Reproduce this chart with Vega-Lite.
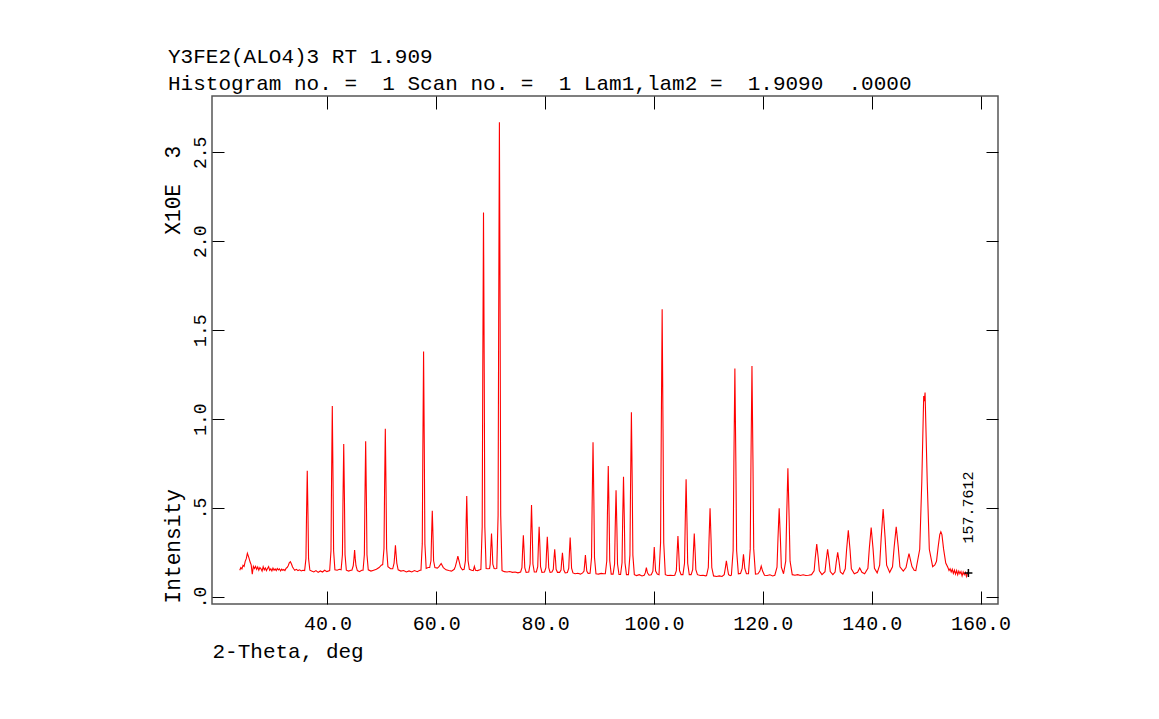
{
  "$schema": "https://vega.github.io/schema/vega-lite/v6.json",
  "width": 786,
  "height": 508,
  "autosize": {"type": "none"},
  "padding": {"left": 212, "top": 96, "right": 161, "bottom": 115},
  "background": "white",
  "title": {
    "text": ["Y3FE2(ALO4)3 RT 1.909", "Histogram no. =\u00a0\u00a01 Scan no. =\u00a0\u00a01 Lam1,lam2 =\u00a0\u00a01.9090\u00a0\u00a0.0000"],
    "anchor": "start",
    "frame": "group",
    "dx": -44,
    "offset": 2,
    "fontSize": 21,
    "font": "Liberation Mono",
    "fontWeight": "normal",
    "color": "#000000",
    "lineHeight": 27
  },
  "config": {
    "font": "Liberation Mono",
    "view": {"stroke": "#555555", "strokeWidth": 1.5},
    "axis": {"grid": false, "domain": false, "tickColor": "#000000", "tickWidth": 1, "labelColor": "#000000", "titleColor": "#000000", "titleFontWeight": "normal", "labelFont": "Liberation Mono", "titleFont": "Liberation Mono"}
  },
  "datasets": {
    "pattern": [
      {"tth":23.9,"int":0.150},{"tth":24.1,"int":0.165},{"tth":24.3,"int":0.158},{"tth":24.5,"int":0.178},{"tth":24.7,"int":0.172},{"tth":24.9,"int":0.200},{"tth":25.1,"int":0.215},{"tth":25.3,"int":0.245},{"tth":25.45,"int":0.232},{"tth":25.6,"int":0.218},{"tth":25.8,"int":0.196},{"tth":26.0,"int":0.180},{"tth":26.2,"int":0.128},{"tth":26.4,"int":0.172},{"tth":26.6,"int":0.160},{"tth":26.8,"int":0.172},{"tth":27.0,"int":0.155},{"tth":27.2,"int":0.168},{"tth":27.4,"int":0.150},{"tth":27.6,"int":0.165},{"tth":27.8,"int":0.158},{"tth":28.0,"int":0.145},{"tth":28.2,"int":0.170},{"tth":28.4,"int":0.152},{"tth":28.6,"int":0.163},{"tth":28.8,"int":0.148},{"tth":29.0,"int":0.160},{"tth":29.2,"int":0.170},{"tth":29.4,"int":0.150},{"tth":29.6,"int":0.158},{"tth":29.8,"int":0.146},{"tth":30.0,"int":0.162},{"tth":30.2,"int":0.150},{"tth":30.4,"int":0.157},{"tth":30.6,"int":0.148},{"tth":30.8,"int":0.160},{"tth":31.0,"int":0.152},{"tth":31.2,"int":0.158},{"tth":31.4,"int":0.146},{"tth":31.6,"int":0.156},{"tth":31.8,"int":0.150},{"tth":32.0,"int":0.154},{"tth":32.2,"int":0.148},{"tth":32.4,"int":0.160},{"tth":32.6,"int":0.165},{"tth":32.8,"int":0.175},{"tth":33.0,"int":0.192},{"tth":33.2,"int":0.198},{"tth":33.4,"int":0.185},{"tth":33.6,"int":0.168},{"tth":33.8,"int":0.158},{"tth":34.0,"int":0.150},{"tth":34.3,"int":0.155},{"tth":34.6,"int":0.148},{"tth":34.9,"int":0.152},{"tth":35.2,"int":0.146},{"tth":35.5,"int":0.150},
      {"tth":35.82,"int":0.148},{"tth":36.06,"int":0.215},{"tth":36.165,"int":0.457},{"tth":36.3,"int":0.71},{"tth":36.435,"int":0.457},{"tth":36.54,"int":0.215},{"tth":36.78,"int":0.15},
      {"tth":37.1,"int":0.145},{"tth":37.5,"int":0.14},{"tth":37.9,"int":0.148},{"tth":38.3,"int":0.138},{"tth":38.7,"int":0.146},{"tth":39.1,"int":0.14},{"tth":39.5,"int":0.15},{"tth":39.9,"int":0.142},
      {"tth":40.42,"int":0.148},{"tth":40.66,"int":0.259},{"tth":40.765,"int":0.657},{"tth":40.9,"int":1.074},{"tth":41.035,"int":0.657},{"tth":41.14,"int":0.259},{"tth":41.38,"int":0.152},{"tth":41.8,"int":0.15},{"tth":42.2,"int":0.155},
      {"tth":42.52,"int":0.152},{"tth":42.76,"int":0.237},{"tth":42.865,"int":0.541},{"tth":43.0,"int":0.86},{"tth":43.135,"int":0.541},{"tth":43.24,"int":0.237},{"tth":43.48,"int":0.15},{"tth":43.9,"int":0.145},{"tth":44.3,"int":0.15},
      {"tth":44.5,"int":0.15},{"tth":44.75,"int":0.175},{"tth":44.88,"int":0.215},{"tth":45.0,"int":0.263},{"tth":45.12,"int":0.215},{"tth":45.25,"int":0.175},{"tth":45.5,"int":0.148},{"tth":45.9,"int":0.142},{"tth":46.3,"int":0.15},
      {"tth":46.55,"int":0.15},{"tth":46.79,"int":0.237},{"tth":46.895,"int":0.549},{"tth":47.03,"int":0.875},{"tth":47.165,"int":0.549},{"tth":47.27,"int":0.237},{"tth":47.51,"int":0.152},{"tth":48.0,"int":0.145},{"tth":48.5,"int":0.15},{"tth":49.0,"int":0.155},{"tth":49.5,"int":0.165},{"tth":49.9,"int":0.178},
      {"tth":50.16,"int":0.182},{"tth":50.4,"int":0.272},{"tth":50.505,"int":0.601},{"tth":50.64,"int":0.946},{"tth":50.775,"int":0.601},{"tth":50.88,"int":0.272},{"tth":51.12,"int":0.17},{"tth":51.6,"int":0.158},
      {"tth":52.0,"int":0.158},{"tth":52.25,"int":0.19},{"tth":52.38,"int":0.24},{"tth":52.5,"int":0.29},{"tth":52.62,"int":0.24},{"tth":52.75,"int":0.19},{"tth":53.0,"int":0.152},{"tth":53.5,"int":0.145},{"tth":54.0,"int":0.148},{"tth":54.5,"int":0.14},{"tth":55.0,"int":0.146},{"tth":55.5,"int":0.14},{"tth":56.0,"int":0.148},{"tth":56.5,"int":0.142},{"tth":57.0,"int":0.15},
      {"tth":57.19,"int":0.15},{"tth":57.43,"int":0.298},{"tth":57.535,"int":0.827},{"tth":57.67,"int":1.38},{"tth":57.805,"int":0.827},{"tth":57.91,"int":0.298},{"tth":58.15,"int":0.16},{"tth":58.5,"int":0.165},
      {"tth":58.79,"int":0.165},{"tth":59.03,"int":0.203},{"tth":59.135,"int":0.34},{"tth":59.27,"int":0.484},{"tth":59.405,"int":0.34},{"tth":59.51,"int":0.203},{"tth":59.75,"int":0.165},{"tth":60.2,"int":0.162},
      {"tth":60.5,"int":0.17},{"tth":60.9,"int":0.188},{"tth":61.3,"int":0.165},{"tth":61.8,"int":0.152},{"tth":62.3,"int":0.148},{"tth":62.8,"int":0.145},{"tth":63.3,"int":0.155},
      {"tth":63.5,"int":0.17},{"tth":63.75,"int":0.2},{"tth":63.97,"int":0.229},{"tth":64.2,"int":0.2},{"tth":64.45,"int":0.168},{"tth":64.8,"int":0.152},
      {"tth":65.12,"int":0.155},{"tth":65.36,"int":0.204},{"tth":65.465,"int":0.382},{"tth":65.6,"int":0.567},{"tth":65.735,"int":0.382},{"tth":65.84,"int":0.204},{"tth":66.08,"int":0.155},{"tth":66.5,"int":0.15},
      {"tth":66.8,"int":0.148},{"tth":67.0,"int":0.172},{"tth":67.2,"int":0.15},{"tth":67.6,"int":0.148},{"tth":68.0,"int":0.152},
      {"tth":68.2,"int":0.155},{"tth":68.44,"int":0.396},{"tth":68.545,"int":1.259},{"tth":68.68,"int":2.162},{"tth":68.815,"int":1.259},{"tth":68.92,"int":0.396},{"tth":69.16,"int":0.16},{"tth":69.5,"int":0.158},
      {"tth":69.8,"int":0.16},{"tth":69.91,"int":0.184},{"tth":70.015,"int":0.268},{"tth":70.15,"int":0.357},{"tth":70.285,"int":0.268},{"tth":70.39,"int":0.184},{"tth":70.63,"int":0.16},{"tth":70.9,"int":0.158},
      {"tth":71.12,"int":0.16},{"tth":71.36,"int":0.461},{"tth":71.465,"int":1.54},{"tth":71.6,"int":2.669},{"tth":71.735,"int":1.54},{"tth":71.84,"int":0.461},{"tth":72.08,"int":0.148},{"tth":72.5,"int":0.142},{"tth":73.0,"int":0.14},{"tth":73.5,"int":0.143},{"tth":74.0,"int":0.138},{"tth":74.5,"int":0.14},{"tth":75.0,"int":0.135},
      {"tth":75.5,"int":0.14},{"tth":75.74,"int":0.165},{"tth":75.855,"int":0.254},{"tth":76.0,"int":0.347},{"tth":76.145,"int":0.254},{"tth":76.26,"int":0.165},{"tth":76.51,"int":0.138},
      {"tth":76.99,"int":0.14},{"tth":77.24,"int":0.185},{"tth":77.355,"int":0.347},{"tth":77.5,"int":0.516},{"tth":77.645,"int":0.347},{"tth":77.76,"int":0.185},{"tth":78.01,"int":0.14},
      {"tth":78.39,"int":0.14},{"tth":78.64,"int":0.17},{"tth":78.755,"int":0.28},{"tth":78.9,"int":0.394},{"tth":79.045,"int":0.28},{"tth":79.16,"int":0.17},{"tth":79.41,"int":0.138},
      {"tth":79.89,"int":0.14},{"tth":80.14,"int":0.164},{"tth":80.255,"int":0.249},{"tth":80.4,"int":0.338},{"tth":80.545,"int":0.249},{"tth":80.66,"int":0.164},{"tth":80.91,"int":0.138},
      {"tth":81.25,"int":0.14},{"tth":81.5,"int":0.155},{"tth":81.615,"int":0.21},{"tth":81.76,"int":0.268},{"tth":81.905,"int":0.21},{"tth":82.02,"int":0.155},{"tth":82.27,"int":0.138},
      {"tth":82.67,"int":0.138},{"tth":82.92,"int":0.151},{"tth":83.035,"int":0.198},{"tth":83.18,"int":0.248},{"tth":83.325,"int":0.198},{"tth":83.44,"int":0.151},{"tth":83.69,"int":0.135},
      {"tth":84.09,"int":0.137},{"tth":84.34,"int":0.161},{"tth":84.455,"int":0.245},{"tth":84.6,"int":0.334},{"tth":84.745,"int":0.245},{"tth":84.86,"int":0.161},{"tth":85.11,"int":0.135},{"tth":85.5,"int":0.13},{"tth":86.0,"int":0.133},{"tth":86.5,"int":0.128},
      {"tth":86.9,"int":0.135},{"tth":87.15,"int":0.145},{"tth":87.28,"int":0.19},{"tth":87.4,"int":0.235},{"tth":87.52,"int":0.19},{"tth":87.65,"int":0.145},{"tth":87.9,"int":0.132},
      {"tth":88.26,"int":0.133},{"tth":88.53,"int":0.221},{"tth":88.645,"int":0.538},{"tth":88.8,"int":0.869},{"tth":88.955,"int":0.538},{"tth":89.07,"int":0.221},{"tth":89.34,"int":0.13},{"tth":89.8,"int":0.128},{"tth":90.3,"int":0.132},{"tth":90.8,"int":0.13},
      {"tth":91.06,"int":0.13},{"tth":91.33,"int":0.203},{"tth":91.445,"int":0.463},{"tth":91.6,"int":0.736},{"tth":91.755,"int":0.463},{"tth":91.87,"int":0.203},{"tth":92.14,"int":0.128},
      {"tth":92.49,"int":0.128},{"tth":92.76,"int":0.185},{"tth":92.875,"int":0.388},{"tth":93.03,"int":0.6},{"tth":93.185,"int":0.388},{"tth":93.3,"int":0.185},{"tth":93.57,"int":0.126},
      {"tth":93.86,"int":0.126},{"tth":94.13,"int":0.192},{"tth":94.245,"int":0.429},{"tth":94.4,"int":0.676},{"tth":94.555,"int":0.429},{"tth":94.67,"int":0.192},{"tth":94.94,"int":0.125},
      {"tth":95.31,"int":0.125},{"tth":95.58,"int":0.235},{"tth":95.695,"int":0.627},{"tth":95.85,"int":1.038},{"tth":96.005,"int":0.627},{"tth":96.12,"int":0.235},{"tth":96.39,"int":0.125},{"tth":96.8,"int":0.12},{"tth":97.3,"int":0.125},{"tth":97.8,"int":0.118},
      {"tth":98.2,"int":0.122},{"tth":98.4,"int":0.135},{"tth":98.6,"int":0.165},{"tth":98.8,"int":0.135},{"tth":99.1,"int":0.122},{"tth":99.5,"int":0.125},
      {"tth":99.8,"int":0.145},{"tth":99.93,"int":0.21},{"tth":100.05,"int":0.28},{"tth":100.17,"int":0.21},{"tth":100.3,"int":0.145},{"tth":100.6,"int":0.128},
      {"tth":100.92,"int":0.125},{"tth":101.21,"int":0.304},{"tth":101.34,"int":0.946},{"tth":101.5,"int":1.618},{"tth":101.66,"int":0.946},{"tth":101.79,"int":0.304},{"tth":102.08,"int":0.125},{"tth":102.5,"int":0.12},{"tth":103.0,"int":0.122},{"tth":103.5,"int":0.12},
      {"tth":103.82,"int":0.122},{"tth":104.11,"int":0.148},{"tth":104.24,"int":0.243},{"tth":104.4,"int":0.342},{"tth":104.56,"int":0.243},{"tth":104.69,"int":0.148},{"tth":104.98,"int":0.125},
      {"tth":105.32,"int":0.125},{"tth":105.61,"int":0.189},{"tth":105.74,"int":0.42},{"tth":105.9,"int":0.661},{"tth":106.06,"int":0.42},{"tth":106.19,"int":0.189},{"tth":106.48,"int":0.125},
      {"tth":106.82,"int":0.125},{"tth":107.11,"int":0.153},{"tth":107.24,"int":0.253},{"tth":107.4,"int":0.357},{"tth":107.56,"int":0.253},{"tth":107.69,"int":0.153},{"tth":107.98,"int":0.125},{"tth":108.5,"int":0.12},{"tth":109.0,"int":0.122},{"tth":109.5,"int":0.118},
      {"tth":109.66,"int":0.12},{"tth":109.98,"int":0.165},{"tth":110.12,"int":0.328},{"tth":110.3,"int":0.498},{"tth":110.48,"int":0.328},{"tth":110.62,"int":0.165},{"tth":110.94,"int":0.118},{"tth":111.5,"int":0.115},{"tth":112.0,"int":0.118},{"tth":112.5,"int":0.115},
      {"tth":112.9,"int":0.125},{"tth":113.1,"int":0.16},{"tth":113.3,"int":0.203},{"tth":113.5,"int":0.16},{"tth":113.7,"int":0.125},{"tth":114.0,"int":0.12},
      {"tth":114.22,"int":0.122},{"tth":114.54,"int":0.261},{"tth":114.68,"int":0.761},{"tth":114.86,"int":1.284},{"tth":115.04,"int":0.761},{"tth":115.18,"int":0.261},{"tth":115.5,"int":0.13},
      {"tth":115.9,"int":0.132},{"tth":116.2,"int":0.16},{"tth":116.32,"int":0.2},{"tth":116.44,"int":0.24},{"tth":116.56,"int":0.2},{"tth":116.68,"int":0.16},{"tth":116.98,"int":0.13},
      {"tth":117.36,"int":0.13},{"tth":117.68,"int":0.27},{"tth":117.82,"int":0.773},{"tth":118.0,"int":1.299},{"tth":118.18,"int":0.773},{"tth":118.32,"int":0.27},{"tth":118.64,"int":0.128},
      {"tth":119.1,"int":0.13},{"tth":119.45,"int":0.145},{"tth":119.7,"int":0.173},{"tth":119.95,"int":0.145},{"tth":120.3,"int":0.122},{"tth":120.8,"int":0.12},{"tth":121.3,"int":0.124},{"tth":121.8,"int":0.118},
      {"tth":122.2,"int":0.122},{"tth":122.6,"int":0.167},{"tth":122.78,"int":0.329},{"tth":123.0,"int":0.498},{"tth":123.22,"int":0.329},{"tth":123.4,"int":0.167},{"tth":123.8,"int":0.13},
      {"tth":124.2,"int":0.201},{"tth":124.38,"int":0.456},{"tth":124.6,"int":0.723},{"tth":124.82,"int":0.456},{"tth":125.0,"int":0.201},{"tth":125.4,"int":0.125},{"tth":125.9,"int":0.122},{"tth":126.4,"int":0.125},{"tth":126.9,"int":0.12},{"tth":127.4,"int":0.124},{"tth":127.9,"int":0.12},{"tth":128.4,"int":0.122},
      {"tth":128.94,"int":0.125},{"tth":129.42,"int":0.146},{"tth":129.63,"int":0.22},{"tth":129.9,"int":0.297},{"tth":130.17,"int":0.22},{"tth":130.38,"int":0.146},{"tth":130.86,"int":0.125},
      {"tth":131.42,"int":0.142},{"tth":131.63,"int":0.204},{"tth":131.9,"int":0.268},{"tth":132.17,"int":0.204},{"tth":132.38,"int":0.142},{"tth":132.86,"int":0.125},
      {"tth":133.27,"int":0.14},{"tth":133.48,"int":0.194},{"tth":133.75,"int":0.25},{"tth":134.02,"int":0.194},{"tth":134.23,"int":0.14},{"tth":134.7,"int":0.128},
      {"tth":135.14,"int":0.158},{"tth":135.38,"int":0.264},{"tth":135.7,"int":0.375},{"tth":136.02,"int":0.264},{"tth":136.26,"int":0.158},{"tth":136.8,"int":0.13},
      {"tth":137.4,"int":0.138},{"tth":137.8,"int":0.162},{"tth":138.2,"int":0.138},{"tth":138.7,"int":0.13},
      {"tth":139.3,"int":0.161},{"tth":139.56,"int":0.273},{"tth":139.9,"int":0.39},{"tth":140.24,"int":0.273},{"tth":140.5,"int":0.161},{"tth":141.0,"int":0.135},
      {"tth":141.46,"int":0.178},{"tth":141.74,"int":0.332},{"tth":142.1,"int":0.494},{"tth":142.46,"int":0.332},{"tth":142.74,"int":0.178},{"tth":143.3,"int":0.138},
      {"tth":143.82,"int":0.169},{"tth":144.12,"int":0.279},{"tth":144.5,"int":0.394},{"tth":144.88,"int":0.279},{"tth":145.18,"int":0.169},{"tth":145.8,"int":0.145},
      {"tth":146.3,"int":0.165},{"tth":146.6,"int":0.21},{"tth":146.85,"int":0.244},{"tth":147.1,"int":0.21},{"tth":147.4,"int":0.17},{"tth":147.8,"int":0.15},
      {"tth":148.1,"int":0.148},{"tth":148.82,"int":0.268},{"tth":149.2,"int":0.648},{"tth":149.55,"int":1.13},{"tth":149.67,"int":1.1},{"tth":149.8,"int":1.149},{"tth":150.2,"int":0.648},{"tth":150.58,"int":0.268},{"tth":151.2,"int":0.17},{"tth":151.6,"int":0.18},
      {"tth":151.9,"int":0.2},{"tth":152.2,"int":0.28},{"tth":152.5,"int":0.35},{"tth":152.7,"int":0.366},{"tth":152.9,"int":0.35},{"tth":153.2,"int":0.27},{"tth":153.6,"int":0.19},
      {"tth":154.0,"int":0.165},{"tth":154.2,"int":0.148},{"tth":154.4,"int":0.158},{"tth":154.6,"int":0.14},{"tth":154.8,"int":0.155},{"tth":155.0,"int":0.132},{"tth":155.2,"int":0.15},{"tth":155.4,"int":0.128},{"tth":155.6,"int":0.148},{"tth":155.8,"int":0.125},{"tth":156.0,"int":0.145},{"tth":156.2,"int":0.13},{"tth":156.4,"int":0.142},{"tth":156.6,"int":0.118},{"tth":156.8,"int":0.14},{"tth":157.0,"int":0.125},{"tth":157.2,"int":0.138},{"tth":157.4,"int":0.115},{"tth":157.6,"int":0.135},{"tth":157.76,"int":0.13}
    ],
    "endpoint": [
      {"tth": 157.7612, "int": 0.135, "labelpos": 0.30, "label": "157.7612"}
    ]
  },
  "resolve": {"scale": {"x": "independent", "y": "independent"}, "axis": {"x": "independent", "y": "independent"}},
  "layer": [
    {
      "data": {"name": "pattern"},
      "mark": {"type": "line", "color": "#ff0000", "strokeWidth": 1.1},
      "encoding": {
        "x": {
          "field": "tth", "type": "quantitative",
          "scale": {"domain": [18.8, 163.2], "nice": false, "zero": false},
          "axis": {
            "orient": "bottom", "values": [40, 60, 80, 100, 120, 140, 160], "format": ".1f",
            "tickSize": -13, "labelFontSize": 20, "labelPadding": 38, "labelBaseline": "alphabetic",
            "labelFlush": false, "labelOverlap": false,
            "title": "2-Theta, deg", "titleFontSize": 21, "titleAnchor": "start", "titleAlign": "left",
            "titleBaseline": "alphabetic", "titleX": 0, "titleY": 53
          }
        },
        "y": {
          "field": "int", "type": "quantitative",
          "scale": {"domain": [-0.04, 2.817], "nice": false, "zero": false},
          "axis": {
            "orient": "left", "values": [0, 0.5, 1, 1.5, 2, 2.5],
            "labelExpr": "datum.value == 0 ? '.0' : datum.value == 0.5 ? '.5' : format(datum.value, '.1f')",
            "tickSize": -12, "labelFontSize": 18, "labelAngle": 270, "labelAlign": "center", "labelBaseline": "alphabetic",
            "labelPadding": 19, "labelFlush": false, "labelOverlap": false,
            "title": "Intensity\u00a0\u00a0\u00a0\u00a0\u00a0\u00a0\u00a0\u00a0\u00a0\u00a0\u00a0\u00a0\u00a0\u00a0\u00a0\u00a0\u00a0\u00a0\u00a0\u00a0X10E\u00a0\u00a03",
            "titleFontSize": 21.2, "titleAngle": 270, "titleAlign": "left", "titleBaseline": "alphabetic",
            "titleAnchor": "start", "titleX": -33, "titleY": 507
          }
        }
      }
    },
    {
      "data": {"name": "endpoint"},
      "mark": {"type": "point", "shape": "M-1,0L1,0M0,-1L0,1", "filled": false, "stroke": "#000000", "strokeWidth": 1.5, "size": 64, "opacity": 1},
      "encoding": {
        "x": {
          "field": "tth", "type": "quantitative",
          "scale": {"domain": [18.8, 163.2], "nice": false, "zero": false},
          "axis": {"orient": "top", "values": [40, 60, 80, 100, 120, 140, 160], "labels": false, "tickSize": -13, "title": null}
        },
        "y": {
          "field": "int", "type": "quantitative",
          "scale": {"domain": [-0.04, 2.817], "nice": false, "zero": false},
          "axis": {"orient": "right", "values": [0, 0.5, 1, 1.5, 2, 2.5], "labels": false, "tickSize": -12, "title": null}
        }
      }
    },
    {
      "data": {"name": "endpoint"},
      "mark": {"type": "text", "angle": 270, "align": "left", "baseline": "middle", "fontSize": 15, "font": "Liberation Mono", "color": "#000000"},
      "encoding": {
        "x": {"field": "tth", "type": "quantitative", "scale": {"domain": [18.8, 163.2], "nice": false, "zero": false}, "axis": null},
        "y": {"field": "labelpos", "type": "quantitative", "scale": {"domain": [-0.04, 2.817], "nice": false, "zero": false}, "axis": null},
        "text": {"field": "label"}
      }
    }
  ]
}
